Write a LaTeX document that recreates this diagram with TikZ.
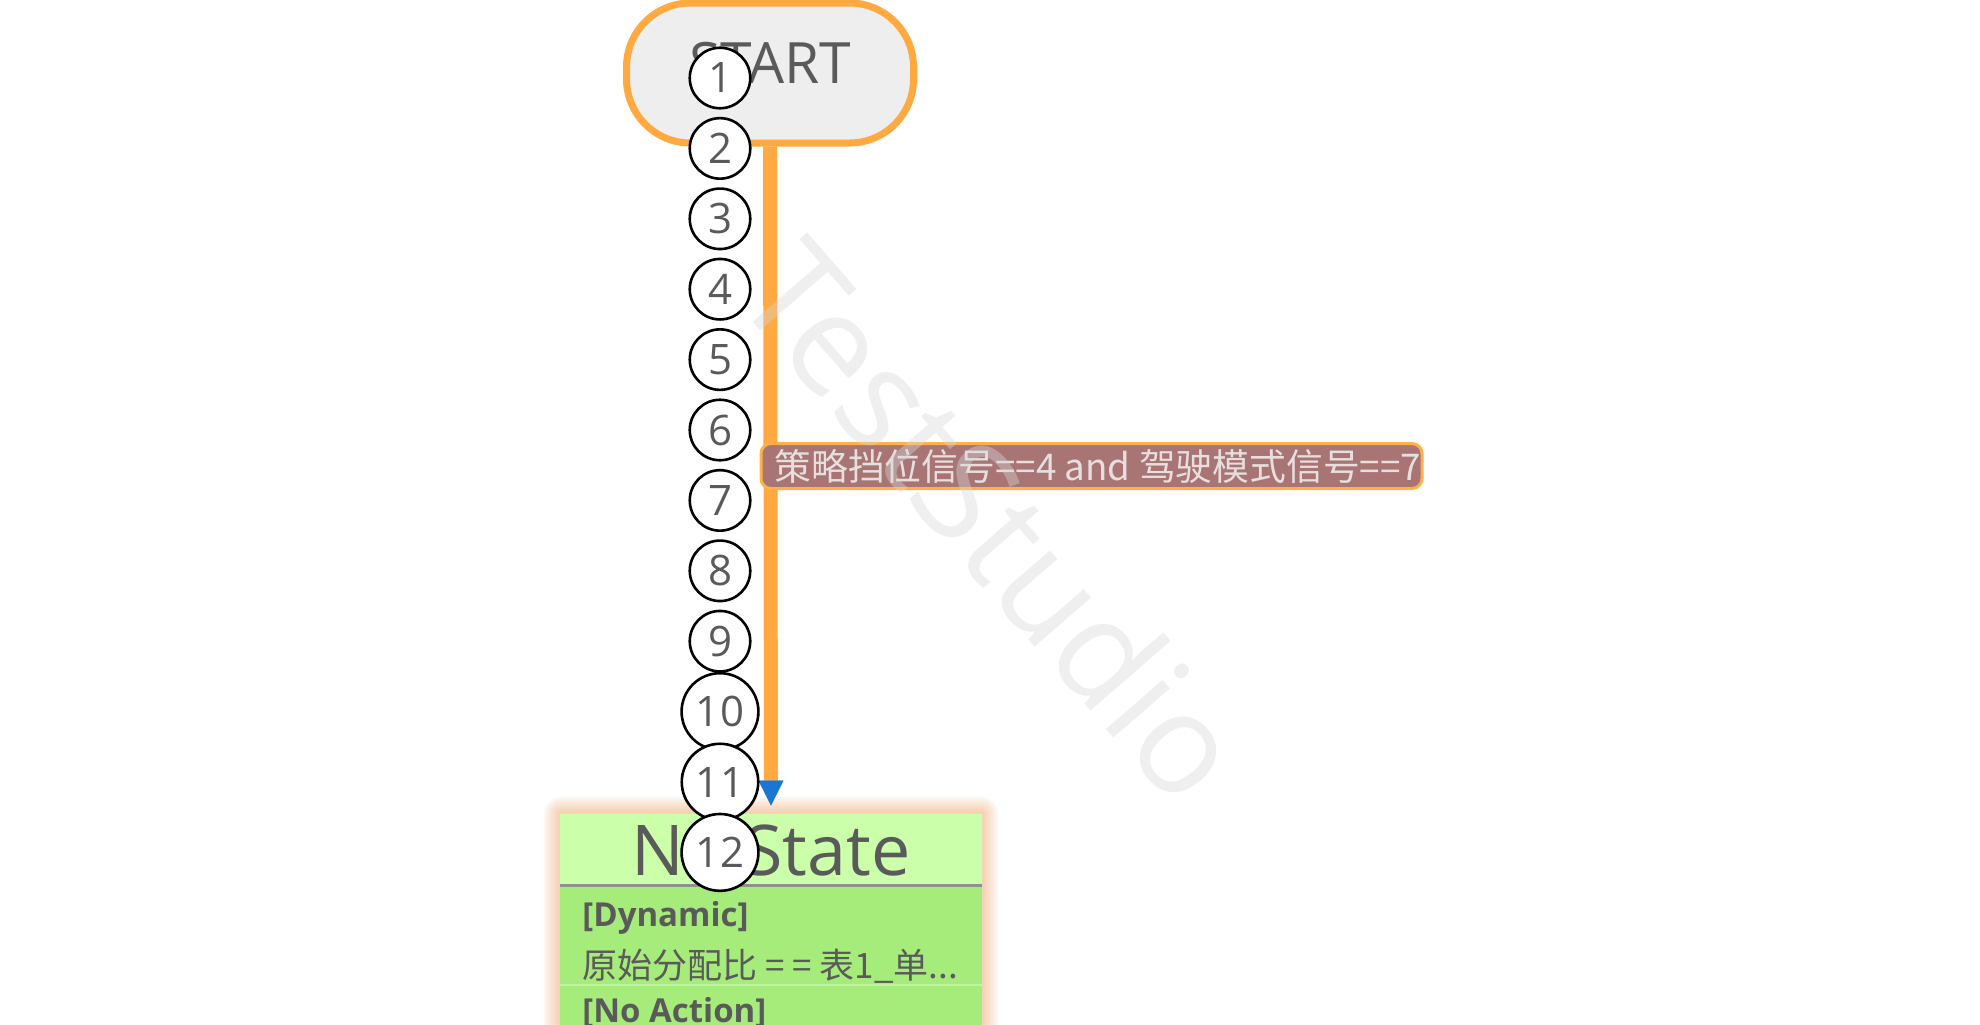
\documentclass[tikz,border=0pt]{standalone}
\usepackage{fontspec}
\setmainfont{Open Sans}
\newfontfamily\cjk{Noto Sans CJK SC}
\usetikzlibrary{arrows.meta}
\definecolor{org}{HTML}{FFA940}
\definecolor{txt}{HTML}{5A5A5A}
\definecolor{startfill}{HTML}{EEEEEE}
\definecolor{condfill}{HTML}{A87474}
\definecolor{condtxt}{HTML}{E8DEDE}
\definecolor{condline}{HTML}{FFB04A}
\definecolor{hdr}{HTML}{CCFFAA}
\definecolor{bodyfill}{HTML}{A6EC7A}
\definecolor{sepline}{HTML}{909090}
\definecolor{arrowblue}{HTML}{1976D2}
\definecolor{glow}{HTML}{F0A060}
\definecolor{wmcol}{HTML}{D8D8D8}
\begin{document}
\begin{tikzpicture}[x=0.5pt,y=-0.5pt,
  startnode/.style={draw=org, line width=3.5pt, fill=startfill, rounded corners=32pt,
    minimum width=143.5pt, minimum height=70pt, inner sep=0pt,
    font=\fontsize{28.5}{30}\selectfont, text=txt, text height=10pt, text depth=0pt},
  statehead/.style={fill=hdr, minimum width=211pt, minimum height=36pt, inner sep=0pt,
    font=\fontsize{35}{38}\selectfont, text=txt, text height=25pt, text depth=0pt},
  conn/.style={draw=org, line width=7pt, shorten >=4pt,
    -{Triangle[width=12.5pt,length=12.5pt,line width=0.1pt,color=arrowblue]}},
  cond/.style={draw=condline, line width=1.5pt, fill=condfill, rounded corners=5pt,
    minimum width=330.5pt, minimum height=22.5pt, inner xsep=6.75pt, inner ysep=0pt,
    text=condtxt, font=\cjk\fontsize{18.4}{21}\selectfont},
  circ/.style={circle, draw=black, line width=1.3pt, fill=white, minimum size=30.25pt,
    inner sep=3.6pt, text=txt, font=\fontsize{21}{23}\selectfont},
  bodybold/.style={anchor=base west, inner sep=0pt, text=txt, font=\bfseries\fontsize{16.5}{18}\selectfont},
  bodytext/.style={anchor=west, inner sep=0pt, text=txt, font=\cjk\fontsize{17.5}{19}\selectfont},
  wmark/.style={rotate=-49, text=wmcol, opacity=0.4, font=\fontsize{70}{72}\selectfont}
]
\useasboundingbox (0,0) rectangle (1980,1024);
\clip (0,0) rectangle (1980,1024);
\fill[white] (0,0) rectangle (1980,1024);

% glow around the state box
\foreach \k in {1,...,7}
  \fill[glow, opacity=0.08, rounded corners={\k*1.25pt}] ({560-\k*2.3},{813-\k*2.3}) rectangle ({982+\k*2.3},1100);

% start node
\node[startnode] (start) at (770,73) {START};

% state box
\fill[bodyfill] (560,885) rectangle (982,1100);
\node[statehead] (state) at (771,850) {No State};
\draw[sepline, line width=1.5pt] (560,885) -- (982,885);
\draw[white!30!bodyfill, line width=0.6pt] (560,985) -- (982,985);
\node[bodybold] (dyn) at (582,926) {[Dynamic]};
\node[bodytext] (expr) at (582,966) {原始分配比 = = 表1\_单...};
\node[bodybold] (noact) at (582,1022) {[No Action]};

% connector
\draw[conn] (start.south) -- (state.north);

% condition label
\node[cond, anchor=west] (condlabel) at (759.5,466) {\makebox[317pt][l]{策略挡位信号==4 and 驾驶模式信号==7}};

% numbered markers
\foreach \i in {1,...,12}
  \node[circ] (c\i) at (720,{78+(\i-1)*70.4}) {\i};

% watermark
\node[wmark] (wm) at (994,520) {TestStudio};
\end{tikzpicture}
\end{document}
